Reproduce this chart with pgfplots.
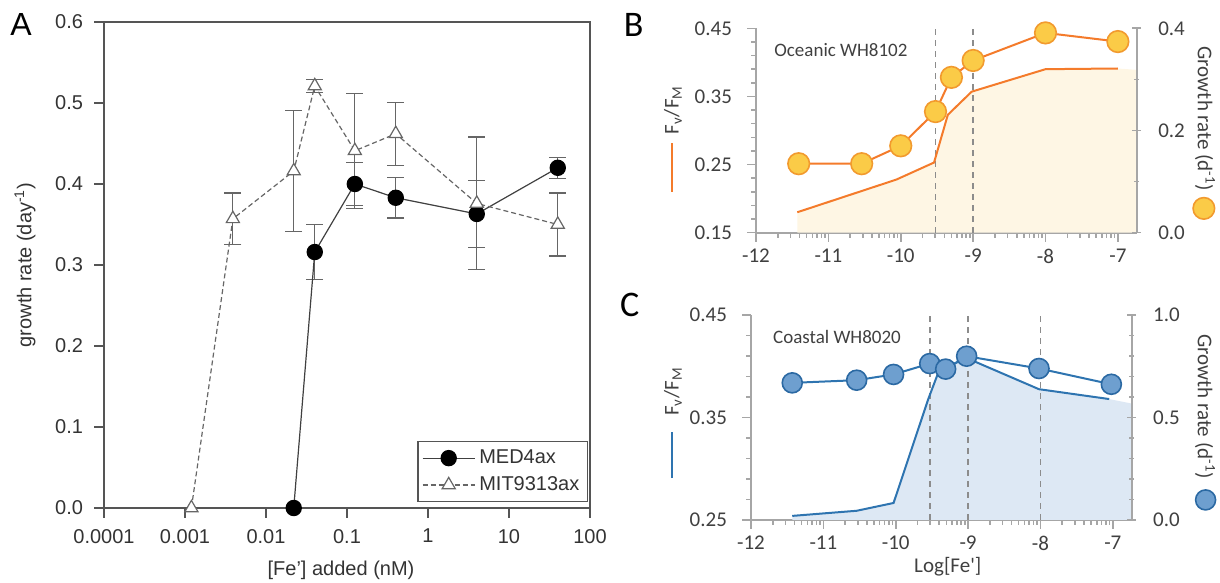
\documentclass[border=0pt]{standalone}
\usepackage{pgfplots}
\pgfplotsset{compat=1.18}
\usepackage{fontspec}
\setmainfont{Liberation Sans}
\newfontfamily\calfont{Carlito}

\definecolor{axgray}{HTML}{555555}
\definecolor{txtgray}{HTML}{333333}
\definecolor{orline}{HTML}{F47B2B}
\definecolor{ordot}{HTML}{FBCB47}
\definecolor{orborder}{HTML}{F29A2E}
\definecolor{orfill}{HTML}{FEF6E4}
\definecolor{blline}{HTML}{2E74B0}
\definecolor{bldot}{HTML}{6E9FCF}
\definecolor{blborder}{HTML}{2B69A3}
\definecolor{blfill}{HTML}{DDE8F4}
\definecolor{bcaxis}{HTML}{A6A6A6}
\definecolor{bctext}{HTML}{404040}
\definecolor{dashgray}{HTML}{8C8C8C}

\pgfplotsset{
  bcstyle/.style={
    scale only axis,
    xmin=-12, xmax=-6.74,
    xtick={-12,-11,-10,-9,-8,-7},
    xticklabels={-12,-11,-10,-9,-8,-7},
    axis line style={draw=bcaxis, line width=1pt},
    tick style={draw=bcaxis, line width=0.8pt},
    major tick length=4.5pt, minor tick length=2.5pt,
    ticklabel style={font=\calfont\fontsize{10.5}{12}\selectfont, text=bctext},
    label style={font=\calfont\fontsize{10.5}{12}\selectfont, text=bctext},
    clip=false,
  },
  bcxminor/.style={
    minor xtick={-11.699,-11.523,-11.398,-11.301,-11.222,-11.155,-11.097,-11.046,
      -10.699,-10.523,-10.398,-10.301,-10.222,-10.155,-10.097,-10.046,
      -9.699,-9.523,-9.398,-9.301,-9.222,-9.155,-9.097,-9.046,
      -8.699,-8.523,-8.398,-8.301,-8.222,-8.155,-8.097,-8.046,
      -7.699,-7.523,-7.398,-7.301,-7.222,-7.155,-7.097,-7.046},
  },
}

\begin{document}
\begin{tikzpicture}
\useasboundingbox (0,0) rectangle (610pt,291.5pt);

% ---------------- Panel A ----------------
\begin{axis}[
  at={(52pt,37.5pt)}, anchor=south west, scale only axis, width=243pt, height=243pt,
  xmode=log, xmin=1e-4, xmax=100, ymin=0, ymax=0.6,
  xtick={1e-4,1e-3,1e-2,1e-1,1,10,100},
  xticklabels={0.0001,0.001,0.01,0.1,1,10,100},
  ytick={0,0.1,0.2,0.3,0.4,0.5,0.6},
  yticklabels={0.0,0.1,0.2,0.3,0.4,0.5,0.6},
  xminorticks=false, yminorticks=false,
  tick pos=left, tick align=outside, major tick length=5pt,
  axis line style={draw=axgray, line width=0.7pt},
  tick style={draw=axgray, line width=0.7pt},
  ticklabel style={font=\fontsize{10}{12}\selectfont, text=txtgray},
  xticklabel style={yshift=-2pt},
  yticklabel style={xshift=-2pt},
  xlabel={[Fe'] added (nM)},
  ylabel={growth rate (day\textsuperscript{-1})},
  label style={font=\fontsize{10}{12}\selectfont, text=txtgray},
  xlabel style={at={(axis description cs:0.4877,-0.1276)}, anchor=center},
  ylabel style={at={(axis description cs:-0.1626,0.5)}, anchor=center},
  legend style={at={(axis description cs:0.996,0.012)}, anchor=south east, draw=axgray, line width=0.7pt, font=\fontsize{10}{12}\selectfont, text=txtgray, inner sep=2pt, row sep=1pt},
  legend cell align=left,
  legend image code/.code={\draw[mark repeat=2,mark phase=2,#1] plot coordinates {(0pt,0pt) (13pt,0pt) (26pt,0pt)};},
  clip=false,
]
\addplot[forget plot, draw=none, mark=none, error bars/.cd, y dir=both, y explicit,
  error mark=-,
  error bar style={draw=black!60, line width=0.6pt, solid},
  error mark options={rotate=90, draw=black!60, line width=0.6pt, mark size=4.2pt, solid}]
coordinates {(0.040,0.316) +- (0,0.034) (0.125,0.400) +- (0,0.027) (0.40,0.383) +- (0,0.025) (4,0.363) +- (0,0.041) (40,0.420) +- (0,0.013)};
\addplot[forget plot, draw=none, mark=none, error bars/.cd, y dir=both, y explicit,
  error mark=-,
  error bar style={draw=black!60, line width=0.6pt, solid},
  error mark options={rotate=90, draw=black!60, line width=0.6pt, mark size=4.2pt, solid}]
coordinates {(0.0039,0.357) +- (0,0.032) (0.022,0.416) +- (0,0.075) (0.040,0.521) +- (0,0.008) (0.125,0.441) +- (0,0.071) (0.40,0.462) +- (0,0.039) (4,0.376) +- (0,0.082) (40,0.350) +- (0,0.039)};
\addplot[black!75, line width=0.6pt, mark=*, mark size=3.8pt, mark options={fill=black, draw=black, solid}]
coordinates {(0.022,0) (0.040,0.316) (0.125,0.400) (0.40,0.383) (4,0.363) (40,0.420)};
\addlegendentry{MED4ax}
\addplot[black!60, line width=0.6pt, dash pattern=on 2.5pt off 1.5pt, mark=triangle*, mark size=3.8pt, mark options={solid, fill=white, draw=black!60}]
coordinates {(0.0012,0) (0.0039,0.357) (0.022,0.416) (0.040,0.521) (0.125,0.441) (0.40,0.462) (4,0.376) (40,0.350)};
\addlegendentry{MIT9313ax}
\end{axis}

% ---------------- Panel B ----------------
\begin{axis}[bcstyle, bcxminor,
  at={(378pt,175.15pt)}, anchor=south west, width=190.35pt, height=102.2pt,
  ymin=0.15, ymax=0.45,
  axis x line*=bottom, axis y line*=left,
  ytick={0.15,0.25,0.35,0.45}, yticklabels={0.15,0.25,0.35,0.45},
  minor ytick={0.17,0.19,0.21,0.23,0.27,0.29,0.31,0.33,0.37,0.39,0.41,0.43},
  tick align=outside,
  yticklabel style={xshift=-4pt},
  ylabel={F\textsubscript{v}/F\textsubscript{M}},
  ylabel style={at={(axis description cs:-0.218,0.60)}, anchor=center},
  legend style={at={(axis description cs:-0.218,0.319)}, anchor=center, draw=none, fill=none, inner sep=0pt, outer sep=0pt, nodes={inner sep=0pt}},
  legend image code/.code={\draw[#1] (0pt,-12.25pt) -- (0pt,12.25pt);},
]
\addplot[forget plot, fill=orfill, draw=none]
coordinates {(-11.43,0.180) (-10.06,0.228) (-9.54,0.253) (-9.35,0.323) (-9.02,0.357) (-8.0,0.390) (-7.0,0.391) (-6.74,0.389)} \closedcycle;
\addplot[forget plot, dashgray, line width=0.9pt, dash pattern=on 3pt off 2.5pt] coordinates {(-9.52,0.15) (-9.52,0.45)};
\addplot[forget plot, dashgray, line width=0.9pt, dash pattern=on 3pt off 2.5pt] coordinates {(-9.0,0.15) (-9.0,0.45)};
\addplot[orline, line width=1pt]
coordinates {(-11.43,0.180) (-10.06,0.228) (-9.54,0.253) (-9.35,0.323) (-9.02,0.357) (-8.0,0.390) (-7.0,0.391)};
\addlegendentry{}
\node[font=\calfont\fontsize{9.5}{11}\selectfont, text=bctext] at (axis description cs:0.223,0.894) {Oceanic WH8102};
\end{axis}
\begin{axis}[bcstyle,
  at={(378pt,175.15pt)}, anchor=south west, width=190.35pt, height=102.2pt,
  ymin=0, ymax=0.4,
  axis x line=none, axis y line*=right,
  ytick={0,0.2,0.4}, yticklabels={0.0,0.2,0.4},
  minor ytick={0.1,0.3},
  tick align=center,
  yticklabel style={xshift=5pt},
  legend style={at={(axis description cs:1.179,0.119)}, anchor=center, draw=none, fill=none, inner sep=0pt, outer sep=0pt, nodes={inner sep=0pt}},
  legend image code/.code={\draw[#1] plot coordinates {(0pt,0pt)};},
]
\addplot[orline, line width=1pt, mark=*, mark size=5.4pt, mark options={fill=ordot, draw=orborder, line width=0.8pt}]
coordinates {(-11.41,0.135) (-10.54,0.135) (-10.0,0.170) (-9.52,0.237) (-9.30,0.304) (-9.0,0.337) (-8.0,0.391) (-7.0,0.374)};
\addlegendentry{}
\end{axis}

% ---------------- Panel C ----------------
\begin{axis}[bcstyle, bcxminor,
  at={(375.5pt,31.5pt)}, anchor=south west, width=190.3pt, height=102.5pt,
  ymin=0.25, ymax=0.45,
  axis x line*=bottom, axis y line*=left,
  ytick={0.25,0.35,0.45}, yticklabels={0.25,0.35,0.45},
  minor ytick={0.27,0.29,0.31,0.33,0.37,0.39,0.41,0.43},
  tick align=outside,
  yticklabel style={xshift=-4pt},
  xlabel={Log[Fe']},
  xlabel style={at={(axis description cs:0.517,-0.228)}, anchor=center},
  ylabel={F\textsubscript{v}/F\textsubscript{M}},
  ylabel style={at={(axis description cs:-0.205,0.626)}, anchor=center},
  legend style={at={(axis description cs:-0.205,0.317)}, anchor=center, draw=none, fill=none, inner sep=0pt, outer sep=0pt, nodes={inner sep=0pt}},
  legend image code/.code={\draw[#1] (0pt,-11.6pt) -- (0pt,11.6pt);},
]
\addplot[forget plot, fill=blfill, draw=none]
coordinates {(-11.43,0.254) (-10.54,0.259) (-10.03,0.2666) (-9.55,0.368) (-9.40,0.396) (-9.02,0.408) (-8.02,0.3776) (-7.05,0.368) (-6.74,0.3636)} \closedcycle;
\addplot[forget plot, dashgray, line width=0.9pt, dash pattern=on 3pt off 2.5pt] coordinates {(-9.53,0.25) (-9.53,0.45)};
\addplot[forget plot, dashgray, line width=0.9pt, dash pattern=on 3pt off 2.5pt] coordinates {(-9.0,0.25) (-9.0,0.45)};
\addplot[forget plot, dashgray, line width=0.9pt, dash pattern=on 3pt off 2.5pt] coordinates {(-8.0,0.25) (-8.0,0.45)};
\addplot[blline, line width=1pt]
coordinates {(-11.43,0.254) (-10.54,0.259) (-10.03,0.2666) (-9.55,0.368) (-9.40,0.396) (-9.02,0.408) (-8.02,0.3776) (-7.05,0.368)};
\addlegendentry{}
\node[font=\calfont\fontsize{9.5}{11}\selectfont, text=bctext] at (axis description cs:0.226,0.894) {Coastal WH8020};
\end{axis}
\begin{axis}[bcstyle,
  at={(375.5pt,31.5pt)}, anchor=south west, width=190.3pt, height=102.5pt,
  ymin=0, ymax=1,
  axis x line=none, axis y line*=right,
  ytick={0,0.5,1}, yticklabels={0.0,0.5,1.0},
  minor ytick={0.1,0.2,0.3,0.4,0.6,0.7,0.8,0.9},
  tick align=center,
  yticklabel style={xshift=5pt},
  legend style={at={(axis description cs:1.197,0.098)}, anchor=center, draw=none, fill=none, inner sep=0pt, outer sep=0pt, nodes={inner sep=0pt}},
  legend image code/.code={\draw[#1] plot coordinates {(0pt,0pt)};},
]
\addplot[blline, line width=1pt, mark=*, mark size=5pt, mark options={fill=bldot, draw=blborder, line width=0.8pt}]
coordinates {(-11.43,0.669) (-10.54,0.682) (-10.03,0.710) (-9.53,0.763) (-9.31,0.736) (-9.02,0.799) (-8.02,0.739) (-7.02,0.662)};
\addlegendentry{}
\end{axis}

% right-hand axis titles
\node[font=\calfont\fontsize{10.5}{12}\selectfont, text=bctext, rotate=-90, anchor=center] at (602.5pt,232pt) {Growth rate (d\textsuperscript{-1})};
\node[font=\calfont\fontsize{10.5}{12}\selectfont, text=bctext, rotate=-90, anchor=center] at (602.5pt,88.2pt) {Growth rate (d\textsuperscript{-1})};

% panel letters
\node[font=\fontsize{16}{18}\selectfont, text=black] at (10.5pt,279pt) {A};
\node[font=\calfont\fontsize{18}{20}\selectfont, text=black] at (316.8pt,279pt) {B};
\node[font=\calfont\fontsize{18}{20}\selectfont, text=black] at (314.8pt,139pt) {C};
\end{tikzpicture}
\end{document}
